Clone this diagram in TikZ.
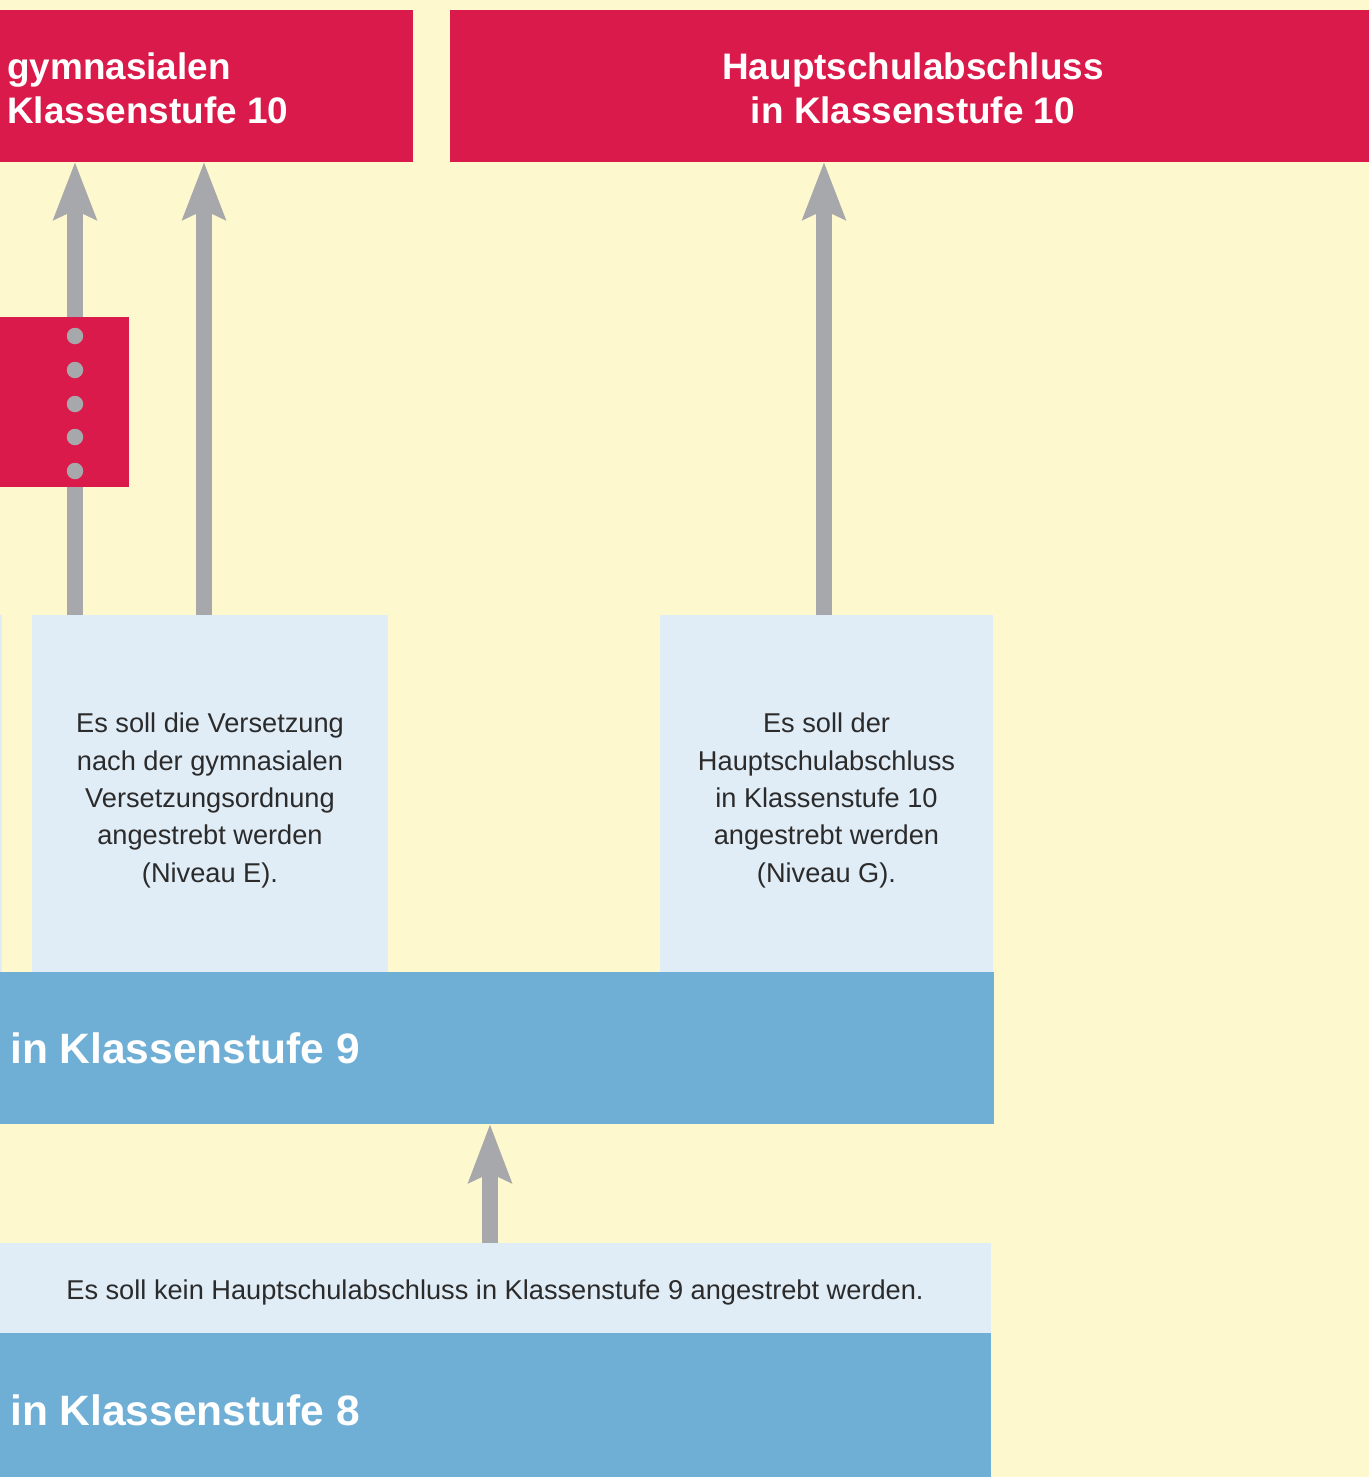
\documentclass[tikz,border=0pt]{standalone}
\usepackage{fontspec}
\setmainfont{Liberation Sans}
\usetikzlibrary{arrows.meta}
\definecolor{bgyellow}{HTML}{FEF8CF}
\definecolor{redbox}{HTML}{DA1A4A}
\definecolor{bluebar}{HTML}{6FAED5}
\definecolor{lightblue}{HTML}{E0ECF6}
\definecolor{arrgray}{HTML}{A7A8AC}
\definecolor{txtdark}{HTML}{2B2B2B}
\tikzset{
  box/.style={rectangle, draw=none, inner sep=0pt, outer sep=0pt, anchor=north west},
  redfill/.style={box, fill=redbox},
  bluefill/.style={box, fill=bluebar},
  lightfill/.style={box, fill=lightblue},
  titletext/.style={inner sep=0pt, text=white, font=\fontsize{36.9}{44}\selectfont\bfseries},
  bartext/.style={inner sep=0pt, text=white, font=\fontsize{42.5}{50}\selectfont\bfseries, anchor=base west},
  bodytext/.style={inner sep=0pt, text=txtdark, font=\fontsize{27.2}{37.3}\selectfont, align=center},
  uparrow/.style={draw=arrgray, line width=16pt, -{Stealth[length=57pt, width=42pt, inset=9pt, fill=arrgray]}},
  dot/.style={circle, fill=arrgray, minimum size=16.5pt, inner sep=0pt}
}
\begin{document}
\begin{tikzpicture}[x=1pt, y=-1pt]
\fill[bgyellow] (0,0) rectangle (1369,1477);
\useasboundingbox (0,0) rectangle (1369,1477);

% top red boxes
\node[redfill, minimum width=413pt, minimum height=152pt] (gym10) at (0,10) {};
\node[redfill, minimum width=919pt, minimum height=152pt] (haupt10) at (450,10) {};
\node[titletext, anchor=north west, align=left] (gymtxt) at (7,52.1) {gymnasialen\\Klassenstufe 10};
\node[titletext, anchor=north, align=center] (hauptxt) at (913,52.1) {Hauptschulabschluss\\in Klassenstufe 10};

% light blue boxes (Klassenstufe 9 level)
\node[lightfill, minimum width=2pt, minimum height=357pt] (lbleft) at (0,615) {};
\node[lightfill, minimum width=356pt, minimum height=357pt] (lbE) at (32,615) {};
\node[lightfill, minimum width=333pt, minimum height=357pt] (lbG) at (660,615) {};
\node[bodytext] (txtE) at (210,800.4) {Es soll die Versetzung\\nach der gymnasialen\\Versetzungsordnung\\angestrebt werden\\(Niveau E).};
\node[bodytext] (txtG) at (826.5,800.4) {Es soll der\\Hauptschulabschluss\\in Klassenstufe 10\\angestrebt werden\\(Niveau G).};

% arrow anchor columns
\coordinate (c1) at (75,0);
\coordinate (c2) at (204,0);
\coordinate (c3) at (824,0);
\coordinate (c4) at (490,0);

% arrows up to the top boxes
\draw[uparrow] (lbE.north -| c1) -- (gym10.south -| c1);
\draw[uparrow] (lbE.north -| c2) -- (gym10.south -| c2);
\draw[uparrow] (lbG.north -| c3) -- (haupt10.south -| c3);

% small red box with dots (over arrow 1)
\node[redfill, minimum width=129pt, minimum height=170pt] (redsmall) at (0,317) {};
\node[dot] (d1) at (75,336) {};
\node[dot] (d2) at (75,370) {};
\node[dot] (d3) at (75,404) {};
\node[dot] (d4) at (75,437) {};
\node[dot] (d5) at (75,471) {};

% Klassenstufe 9 bar
\node[bluefill, minimum width=994pt, minimum height=152pt] (ks9) at (0,972) {};
\node[bartext] (ks9txt) at (10,1063) {in Klassenstufe 9};

% lower light strip and Klassenstufe 8 bar
\node[lightfill, minimum width=991pt, minimum height=90pt] (kein) at (0,1243) {};
\node[bodytext, anchor=base] (keintxt) at (495,1299) {Es soll kein Hauptschulabschluss in Klassenstufe 9 angestrebt werden.};
\node[bluefill, minimum width=991pt, minimum height=144pt] (ks8) at (0,1333) {};
\node[bartext] (ks8txt) at (10,1425) {in Klassenstufe 8};

\draw[uparrow, -{Stealth[length=58pt, width=42pt, inset=9pt, fill=arrgray]}] (kein.north -| c4) -- (ks9.south -| c4);
\end{tikzpicture}
\end{document}
